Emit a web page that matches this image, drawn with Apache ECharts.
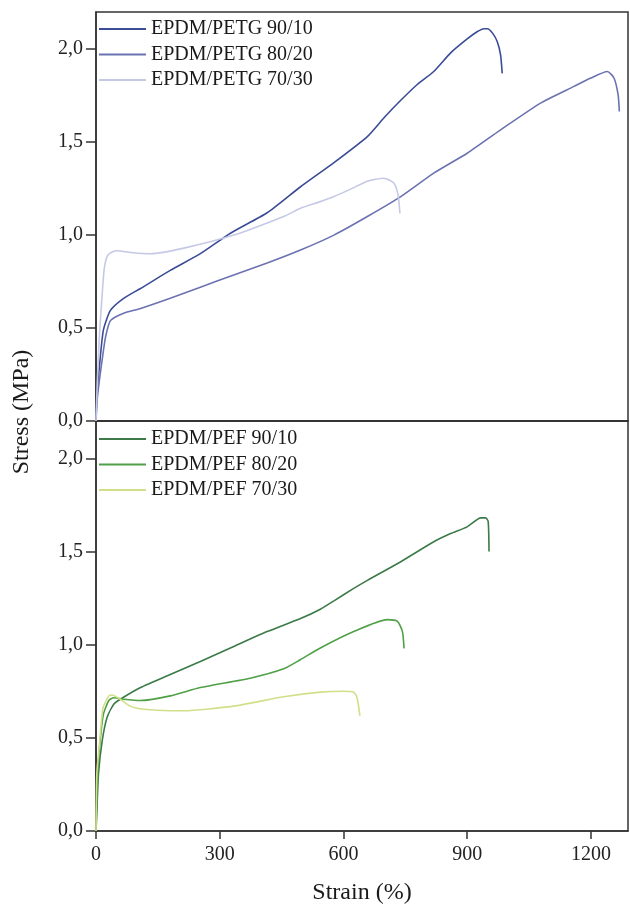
<!DOCTYPE html>
<html>
<head>
<meta charset="utf-8">
<script src="https://cdn.jsdelivr.net/npm/echarts@6/dist/echarts.min.js"></script>
<style>
  html, body { margin: 0; padding: 0; background: #fff; }
  #chart { width: 630px; height: 908px; }
</style>
</head>
<body>
<div id="chart"></div>
<script>
// strain (%) / stress (MPa)
const petg9010X = [0, 2, 9, 18, 35, 67, 108, 180, 253, 326, 415, 496, 577, 658, 700, 739, 779, 819, 860, 900, 925, 941, 949, 962, 973, 981, 985]
const petg9010Y = [0, 0.13, 0.31, 0.49, 0.595, 0.66, 0.713, 0.81, 0.9, 1.01, 1.12, 1.26, 1.39, 1.53, 1.635, 1.725, 1.81, 1.88, 1.98, 2.055, 2.095, 2.11, 2.11, 2.085, 2.04, 1.97, 1.87]
const petg8020X = [0, 3, 10, 15, 23, 35, 67, 108, 180, 253, 334, 415, 496, 577, 658, 739, 819, 900, 981, 1078, 1159, 1200, 1240, 1256, 1266, 1269]
const petg8020Y = [0, 0.12, 0.25, 0.33, 0.45, 0.54, 0.58, 0.605, 0.66, 0.72, 0.785, 0.85, 0.92, 1.0, 1.1, 1.207, 1.333, 1.44, 1.566, 1.71, 1.8, 1.845, 1.88, 1.845, 1.755, 1.665]
const petg7030X = [0, 3, 8, 14, 20, 28, 40, 51, 90, 132, 213, 334, 455, 496, 544, 577, 620, 658, 698, 722, 732, 737]
const petg7030Y = [0, 0.2, 0.45, 0.65, 0.82, 0.89, 0.91, 0.916, 0.905, 0.9, 0.93, 1.0, 1.1, 1.144, 1.18, 1.207, 1.25, 1.29, 1.306, 1.28, 1.22, 1.117]

const pef9010X = [0, 2, 6, 15, 27, 43, 59, 108, 180, 253, 334, 415, 496, 544, 577, 620, 658, 739, 819, 860, 900, 933, 945, 951, 953]
const pef9010Y = [0, 0.1, 0.306, 0.484, 0.61, 0.68, 0.707, 0.77, 0.84, 0.91, 0.99, 1.07, 1.14, 1.19, 1.235, 1.295, 1.345, 1.445, 1.552, 1.596, 1.632, 1.68, 1.68, 1.66, 1.5]
const pef8020X = [0, 4, 10, 18, 31, 43, 67, 108, 180, 253, 374, 455, 496, 544, 625, 706, 731, 743, 747]
const pef8020Y = [0, 0.306, 0.484, 0.627, 0.7, 0.715, 0.707, 0.7, 0.725, 0.77, 0.82, 0.87, 0.92, 0.982, 1.07, 1.134, 1.125, 1.07, 0.98]
const pef7030X = [0, 2, 9, 17, 31, 39, 59, 83, 116, 180, 213, 334, 455, 544, 600, 625, 633, 640]
const pef7030Y = [0, 0.306, 0.484, 0.66, 0.725, 0.73, 0.707, 0.67, 0.653, 0.645, 0.645, 0.67, 0.72, 0.745, 0.75, 0.745, 0.715, 0.618]

const strainTicks = [0, 300, 600, 900, 1200]
const stressTicks = [0, 0.5, 1.0, 1.5, 2.0]

const font = 'Liberation Serif'
const axisColor = '#333'

function pairs(xs, ys) {
  return xs.map((x, i) => [x, ys[i]])
}

function stressAxis(idx) {
  return {
    type: 'value',
    gridIndex: idx,
    min: 0,
    max: 2.2,
    interval: 0.5,
    axisLine: { show: true, lineStyle: { color: axisColor, width: 1.5 } },
    axisTick: { show: true, length: 10, customValues: stressTicks, lineStyle: { color: axisColor, width: 1.5 } },
    axisLabel: {
      customValues: stressTicks,
      margin: 13,
      fontFamily: font,
      fontSize: 20,
      color: '#222',
      formatter: (v) => v.toFixed(1).replace('.', ','),
    },
    splitLine: { show: false },
  }
}

function line(name, xs, ys, color, xi) {
  return {
    name: name,
    type: 'line',
    xAxisIndex: xi,
    yAxisIndex: xi,
    data: pairs(xs, ys),
    symbol: 'none',
    smooth: 0.2,
    lineStyle: { color: color, width: 1.6 },
    itemStyle: { color: color },
  }
}

function legend(names, top) {
  return {
    data: names,
    orient: 'vertical',
    left: 99,
    top: top,
    padding: 0,
    icon: 'rect',
    itemWidth: 47,
    itemHeight: 2,
    itemGap: 5.5,
    textStyle: { fontFamily: font, fontSize: 20, color: '#1a1a1a', lineHeight: 20 },
  }
}

const chart = echarts.init(document.getElementById('chart'))
const option = {
  backgroundColor: '#fff',
  animation: false,
  grid: [
    { left: 96, right: 2, top: 12, height: 409, show: true, borderColor: axisColor, borderWidth: 1.5 },
    { left: 96, right: 2, top: 421, height: 410, show: true, borderColor: axisColor, borderWidth: 1.5 },
  ],
  legend: [
    legend(['EPDM/PETG 90/10', 'EPDM/PETG 80/20', 'EPDM/PETG 70/30'], 19),
    legend(['EPDM/PEF 90/10', 'EPDM/PEF 80/20', 'EPDM/PEF 70/30'], 429),
  ],
  xAxis: [
    {
      type: 'value',
      gridIndex: 0,
      min: 0,
      max: 1290,
      interval: 300,
      axisLine: { show: true, lineStyle: { color: axisColor, width: 1.5 } },
      axisTick: { show: false },
      axisLabel: { show: false },
      splitLine: { show: false },
    },
    {
      type: 'value',
      gridIndex: 1,
      min: 0,
      max: 1290,
      interval: 300,
      name: 'Strain (%)',
      nameLocation: 'middle',
      nameGap: 50,
      nameTextStyle: { fontFamily: font, fontSize: 24, color: '#1a1a1a' },
      axisLine: { show: true, lineStyle: { color: axisColor, width: 1.5 } },
      axisTick: { show: true, length: 8, customValues: strainTicks, lineStyle: { color: axisColor, width: 1.5 } },
      axisLabel: {
        customValues: strainTicks,
        margin: 14,
        fontFamily: font,
        fontSize: 20,
        color: '#222',
        formatter: (v) => String(v),
      },
      splitLine: { show: false },
    },
  ],
  yAxis: [stressAxis(0), stressAxis(1)],
  graphic: [
    {
      type: 'text',
      x: 22,
      y: 412,
      rotation: Math.PI / 2,
      style: {
        text: 'Stress (MPa)',
        fontFamily: font,
        fontSize: 24,
        fill: '#1a1a1a',
        align: 'center',
        verticalAlign: 'middle',
      },
    },
  ],
  series: [
    line('EPDM/PETG 90/10', petg9010X, petg9010Y, '#3b4c96', 0),
    line('EPDM/PETG 80/20', petg8020X, petg8020Y, '#6b72b2', 0),
    line('EPDM/PETG 70/30', petg7030X, petg7030Y, '#c5c9e5', 0),
    line('EPDM/PEF 90/10', pef9010X, pef9010Y, '#3c7a48', 1),
    line('EPDM/PEF 80/20', pef8020X, pef8020Y, '#4fa046', 1),
    line('EPDM/PEF 70/30', pef7030X, pef7030Y, '#d2df88', 1),
  ],
}
chart.setOption(option)
</script>
</body>
</html>
